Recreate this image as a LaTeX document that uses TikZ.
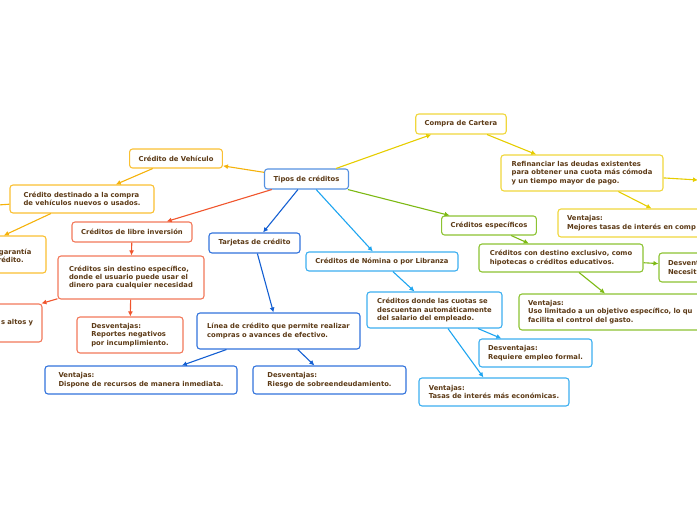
\documentclass[tikz,border=0pt]{standalone}
\usepackage{fontspec}
\setsansfont{DejaVu Sans}
\usetikzlibrary{arrows.meta}
\definecolor{txt}{RGB}{92,58,22}
\definecolor{bTipos}{RGB}{85,145,225}
\definecolor{bVeh}{RGB}{250,192,50}
\definecolor{cVeh}{RGB}{245,178,10}
\definecolor{bRed}{RGB}{242,120,90}
\definecolor{cRed}{RGB}{240,85,45}
\definecolor{bDB}{RGB}{50,115,220}
\definecolor{cDB}{RGB}{20,95,210}
\definecolor{bLB}{RGB}{60,175,240}
\definecolor{cLB}{RGB}{30,165,240}
\definecolor{bGold}{RGB}{240,215,60}
\definecolor{cGold}{RGB}{230,205,0}
\definecolor{bGr}{RGB}{140,195,50}
\definecolor{cGr}{RGB}{125,185,20}
\tikzset{
  bx/.style={draw=#1, rounded corners=3pt, fill=white, line width=1.1pt, text=txt,
    font=\sffamily\bfseries\fontsize{6.8}{8.4}\selectfont, inner xsep=9pt, inner ysep=0pt, align=left},
  lk/.style={draw=#1, line width=1.1pt, -{Latex[length=5pt,width=5pt]}},
}
\begin{document}
\begin{tikzpicture}[x=1pt,y=-1pt]
\useasboundingbox (0,0) rectangle (697,520);
\clip (0,0) rectangle (697,520);
% root
\node[bx=bTipos, minimum width=83pt, minimum height=20pt] (tipos) at (306.5,179) {Tipos de créditos};
% vehiculo
\node[bx=bVeh, minimum width=92pt, minimum height=19pt] (veh) at (176,158.5) {Crédito de Vehículo};
\node[bx=bVeh, minimum width=144pt, minimum height=28pt] (vdest) at (82,199) {Crédito destinado a la compra\\de vehículos nuevos o usados.};
\node[bx=bVeh, text width=148pt, minimum height=37pt] (vgar) at (-37,254.5) {~\\\hspace*{110pt}garantía\\\hspace*{105pt}crédito.};
\coordinate (offL) at (-100,212);
% libre inversion
\node[bx=bRed, minimum width=120pt, minimum height=20pt] (libre) at (132,232) {Créditos de libre inversión};
\node[bx=bRed, minimum width=146pt, minimum height=43pt] (sin) at (131,277.5) {Créditos sin destino específico,\\donde el usuario puede usar el\\dinero para cualquier necesidad};
\node[bx=bRed, text width=118pt, align=right, minimum height=38pt] (altos) at (-26,323) {s altos y};
\node[bx=bRed, minimum width=106pt, minimum height=36pt] (rep) at (130,335) {Desventajas:\\Reportes negativos\\por incumplimiento.};
% tarjetas
\node[bx=bDB, minimum width=91pt, minimum height=20pt] (tarj) at (254.5,243) {Tarjetas de crédito};
\node[bx=bDB, minimum width=163pt, minimum height=36pt] (linea) at (278.5,331) {Línea de crédito que permite realizar\\compras o avances de efectivo.};
\node[bx=bDB, minimum width=192pt, minimum height=28pt] (vdisp) at (141,380) {Ventajas:\\Dispone de recursos de manera inmediata.};
\node[bx=bDB, minimum width=153pt, minimum height=28pt] (desvr) at (329.5,380) {Desventajas:\\Riesgo de sobreendeudamiento.};
% nomina
\node[bx=bLB, minimum width=152pt, minimum height=19pt] (nom) at (382,261.5) {Créditos de Nómina o por Libranza};
\node[bx=bLB, minimum width=135pt, minimum height=36pt] (cuotas) at (434.5,310) {Créditos donde las cuotas se\\descuentan automáticamente\\del salario del empleado.};
\node[bx=bLB, minimum width=113pt, minimum height=28pt] (req) at (535.5,353) {Desventajas:\\Requiere empleo formal.};
\node[bx=bLB, minimum width=150pt, minimum height=28pt] (tasas) at (494,392) {Ventajas:\\Tasas de interés más económicas.};
% compra de cartera
\node[bx=bGold, minimum width=90pt, minimum height=20pt] (compra) at (461,124) {Compra de Cartera};
\node[bx=bGold, minimum width=162pt, minimum height=36pt] (refi) at (582,173) {Refinanciar las deudas existentes\\para obtener una cuota más cómoda\\y un tiempo mayor de pago.};
\node[bx=bGold, text width=226pt, minimum height=28pt] (vmej) at (680,223) {Ventajas:\\Mejores tasas de interés en comp};
\coordinate (offR) at (698,180);
% especificos
\node[bx=bGr, minimum width=94pt, minimum height=19pt] (esp) at (489,225.5) {Créditos específicos};
\node[bx=bGr, minimum width=164pt, minimum height=28pt] (dest) at (561,258) {Créditos con destino exclusivo, como\\hipotecas o créditos educativos.};
\node[bx=bGr, text width=118pt, minimum height=29pt] (desvn) at (727,267.5) {Desvent\\Necesit};
\node[bx=bGr, text width=200pt, minimum height=36pt] (vuso) at (628,312) {Ventajas:\\Uso limitado a un objetivo específico, lo qu\\facilita el control del gasto.};
% connectors
\draw[lk=cVeh] (tipos) -- (veh);
\draw[lk=cVeh] (veh) -- (vdest);
\draw[lk=cVeh] (vdest) -- (vgar);
\draw[lk=cVeh] (vdest) -- (offL);
\draw[lk=cRed] (tipos) -- (libre);
\draw[lk=cRed] (libre) -- (sin);
\draw[lk=cRed] (sin) -- (altos);
\draw[lk=cRed] (sin) -- (rep);
\draw[lk=cDB] (tipos) -- (tarj);
\draw[lk=cDB] (tarj) -- (linea);
\draw[lk=cDB] (linea) -- (vdisp);
\draw[lk=cDB] (linea) -- (desvr);
\draw[lk=cLB] (tipos) -- (nom);
\draw[lk=cLB] (nom) -- (cuotas);
\draw[lk=cLB] (cuotas) -- (req);
\draw[lk=cLB] (cuotas) -- (tasas);
\draw[lk=cGold] (tipos) -- (compra);
\draw[lk=cGold] (compra) -- (refi);
\draw[lk=cGold] (refi) -- (offR);
\draw[lk=cGold] (refi) -- (vmej);
\draw[lk=cGr] (tipos) -- (esp);
\draw[lk=cGr] (esp) -- (dest);
\draw[lk=cGr] (dest) -- (desvn);
\draw[lk=cGr] (dest) -- (vuso);
\end{tikzpicture}
\end{document}
